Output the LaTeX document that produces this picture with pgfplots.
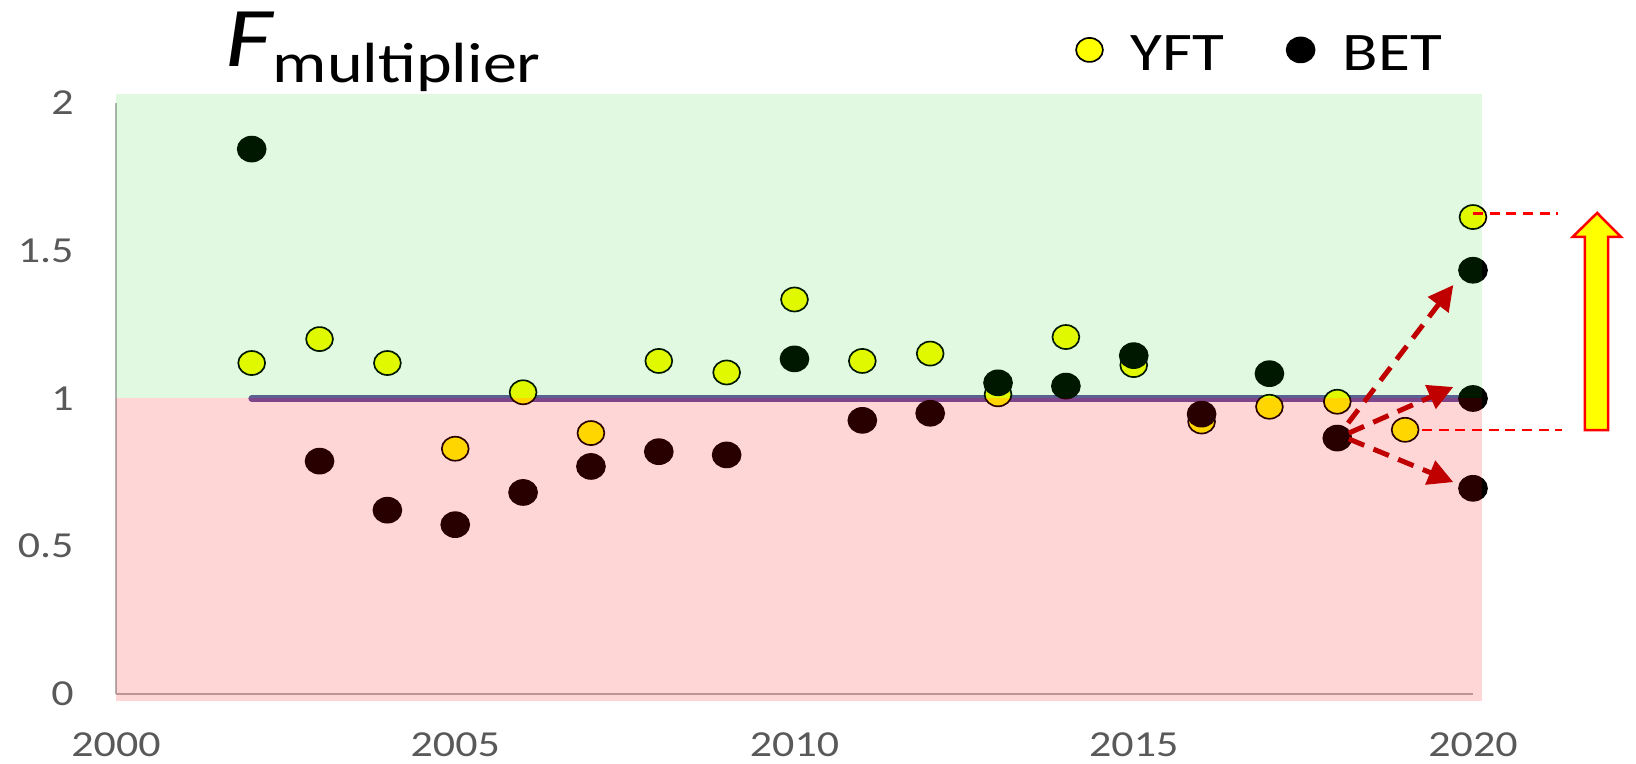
\documentclass[border=0pt]{standalone}
\usepackage{fontspec}
\setmainfont{Carlito}[FakeStretch=1.2]
\usepackage{pgfplots}
\pgfplotsset{compat=1.18}
\usetikzlibrary{arrows.meta}
\definecolor{tickgray}{HTML}{595959}
\definecolor{ovgreen}{rgb}{0,0.8,0}
\definecolor{linepurple}{HTML}{6753A6}
\definecolor{darkred}{HTML}{C00000}
\definecolor{yft}{HTML}{FFFF00}

\begin{document}
\begin{tikzpicture}
\useasboundingbox (-34.8pt,-21pt) rectangle (456pt,208.2pt);
\begin{axis}[
  clip marker paths=true,
  scale only axis,
  width=407.1pt, height=177.3pt,
  xmin=2000, xmax=2020, ymin=0, ymax=2,
  axis x line*=bottom, axis y line*=left,
  axis line style={draw=gray!60, line width=0.6pt, -},
  xtick={2000,2005,2010,2015,2020},
  xticklabels={2000,2005,2010,2015,2020},
  ytick={0,0.5,1,1.5,2},
  yticklabels={0,0.5,1,1.5,2},
  major tick length=0pt,
  tick label style={font=\fontsize{11}{11}\selectfont, text=tickgray},
  yticklabel style={xshift=-9.2pt},
  xticklabel style={yshift=-8.1pt},
  clip=false,
  legend columns=2,
  legend image code/.code={\draw[#1] plot coordinates {(0pt,1.65pt)};},
  legend style={at={(axis cs:2014.15,2.161)}, anchor=west, draw=none, fill=none,
    inner sep=0pt, outer sep=0pt, nodes={inner sep=0pt},
    font=\fontsize{16.3}{16.3}\selectfont,
    /tikz/every odd column/.append style={column sep=8.4pt},
    /tikz/every even column/.append style={column sep=18.6pt}},
]
% reference line at 1
\addplot[linepurple, line width=2pt, line cap=round, forget plot] coordinates {(2002,1) (2020.04,1)};

% YFT
\addplot[only marks, mark=*, mark size=3.6pt,
  mark options={fill=yft, draw=black, line width=0.5pt, xscale=1.12}]
coordinates {
(2002,1.120) (2003,1.201) (2004,1.120) (2005,0.830) (2006,1.021)
(2007,0.883) (2008,1.127) (2009,1.088) (2010,1.335) (2011,1.127)
(2012,1.152) (2013,1.014) (2014,1.208) (2015,1.113) (2016,0.922)
(2017,0.972) (2018,0.989) (2019,0.894) (2020,1.614)
};
\addlegendentry{YFT}

% BET
\addplot[only marks, mark=*, mark size=3.8pt,
  mark options={fill=black, draw=black, line width=0.4pt, xscale=1.12}]
coordinates {
(2002,1.844) (2003,0.788) (2004,0.622) (2005,0.573) (2006,0.682)
(2007,0.770) (2008,0.820) (2009,0.809) (2010,1.134) (2011,0.926)
(2012,0.950) (2013,1.053) (2014,1.042) (2015,1.145) (2016,0.947)
(2017,1.084) (2018,0.866) (2020,1.434) (2020,1.000) (2020,0.696)
};
\addlegendentry{BET}

% translucent zones (on top of the points, as in the original)
\addplot[draw=none, fill=ovgreen, fill opacity=0.12, forget plot]
  coordinates {(2000,1) (2020.13,1) (2020.13,2.03) (2000,2.03)} -- cycle;
\addplot[draw=none, fill=red, fill opacity=0.16, forget plot]
  coordinates {(2000,-0.024) (2020.13,-0.024) (2020.13,1) (2000,1)} -- cycle;

% scenario arrows
\draw[darkred, line width=1.5pt, dash pattern=on 5pt off 3pt, -{Triangle[length=7.5pt,width=7.5pt]}]
  (axis cs:2018.16,0.917) -- (axis cs:2019.71,1.384);
\draw[darkred, line width=1.5pt, dash pattern=on 5pt off 3pt, -{Triangle[length=7.5pt,width=7.5pt]}]
  (axis cs:2018.17,0.883) -- (axis cs:2019.71,1.039);
\draw[darkred, line width=1.5pt, dash pattern=on 5pt off 3pt, -{Triangle[length=7.5pt,width=7.5pt]}]
  (axis cs:2018.17,0.863) -- (axis cs:2019.71,0.717);

% thin dashed guides
\draw[red, line width=0.8pt, dash pattern=on 3pt off 2pt]
  (axis cs:2020,1.625) -- (axis cs:2021.25,1.625);
\draw[red, line width=0.8pt, dash pattern=on 3pt off 2pt]
  (axis cs:2019.25,0.893) -- (axis cs:2021.31,0.893);

% big yellow arrow
\draw[red, line width=0.75pt, fill=yft]
  (axis cs:2021.65,0.893) -- (axis cs:2021.99,0.893) -- (axis cs:2021.99,1.547)
  -- (axis cs:2022.18,1.547) -- (axis cs:2021.83,1.628) -- (axis cs:2021.47,1.547)
  -- (axis cs:2021.65,1.547) -- cycle;

% title
\node[anchor=base west, inner sep=0pt] at (axis cs:2001.61,2.122)
  {{\fontsize{25.5}{25.5}\selectfont\itshape F}\raisebox{-4.8pt}{\fontsize{17}{17}\selectfont multiplier}};
\end{axis}
\end{tikzpicture}
\end{document}
